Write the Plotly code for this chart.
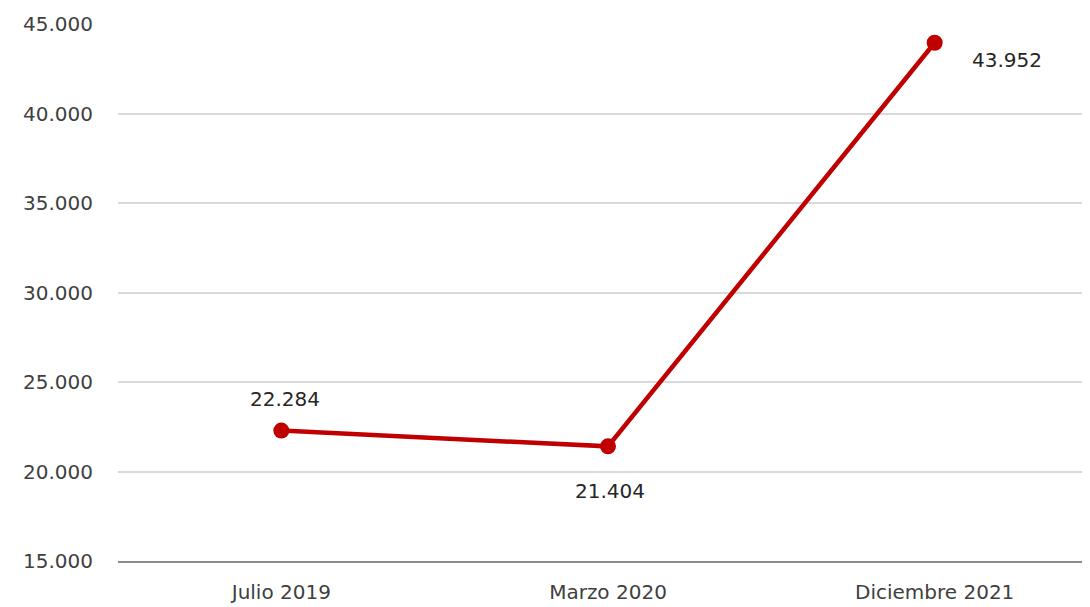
import plotly.graph_objects as go

categories = ["Julio 2019", "Marzo 2020", "Diciembre 2021"]
values = [22284, 21404, 43952]
label_shift_x = [4, 2, 72]
label_shift_y = [32, -45, -17]

def fmt(v):
    return f"{v:,}".replace(",", ".")

FONT = "DejaVu Sans, sans-serif"

fig = go.Figure()
fig.add_trace(go.Scatter(
    x=categories, y=values, mode="lines+markers",
    line=dict(color="#c00000", width=4.5),
    marker=dict(color="#c00000", size=16),
    hoverinfo="skip", showlegend=False,
))
for c, v, dx, dy in zip(categories, values, label_shift_x, label_shift_y):
    fig.add_annotation(x=c, y=v, text=fmt(v), showarrow=False,
                       xshift=dx, yshift=dy,
                       font=dict(size=20, color="#262626", family=FONT))

fig.update_layout(
    width=1090, height=599,
    margin=dict(l=110, r=0, t=16, b=46),
    paper_bgcolor="white", plot_bgcolor="white",
    separators=",.",
    font=dict(family=FONT, size=20, color="#404040"),
)
fig.update_yaxes(range=[15000, 45000], dtick=5000, tickformat=",.0f",
                 showgrid=True, gridcolor="#d9d9d9", gridwidth=1.5,
                 zeroline=False, showline=False, ticks="",
                 ticklabelstandoff=24, automargin=False)
fig.update_xaxes(range=[-0.5, 2.5], showgrid=False, showline=True,
                 linecolor="#8c8c8c", linewidth=2,
                 ticks="", ticklabelstandoff=12, automargin=False)
fig.write_html("out.html")
